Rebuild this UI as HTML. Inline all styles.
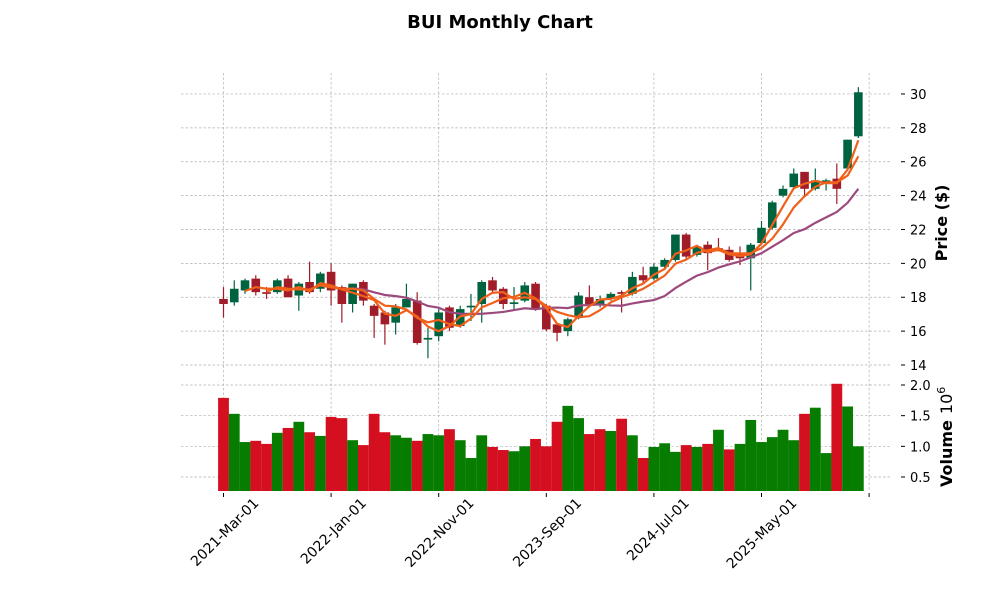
<!DOCTYPE html>
<html><head><meta charset="utf-8"><style>
body{margin:0;background:#fff;}
svg text{font-family:"DejaVu Sans","Liberation Sans",sans-serif;}
</style></head><body>
<svg id="s" width="1000" height="600" xmlns="http://www.w3.org/2000/svg">
<text x="500" y="28" text-anchor="middle" font-size="18" font-weight="bold">BUI Monthly Chart</text>
</svg>
<script>
const d=[[17.9,17.6,18.6,16.8],[17.7,18.5,19,17.5],[18.4,19,19.1,18.2],[19.1,18.3,19.3,18.1],[18.3,18.2,18.6,17.9],[18.3,19,19.1,18.2],[19.1,18,19.3,18],[18.1,18.8,18.9,17.2],[18.9,18.3,20.1,18.2],[18.5,19.4,19.5,18.3],
[19.5,18.4,20,17.5],[18.6,17.6,18.7,16.5],[17.6,18.8,18.8,17.1],[18.9,17.8,19,17.5],[17.5,16.9,17.6,15.6],[17.1,16.4,17.2,15.2],[16.5,17.4,17.6,15.8],[17.4,17.9,18.8,17.4],[17.8,15.3,18.3,15.2],[15.5,15.6,16.2,14.4],
[15.7,17.1,17.3,15.4],[17.4,16.2,17.5,16],[16.3,17.3,17.5,16.2],[17.4,17.5,18.2,16.6],[17.6,18.9,19,16.5],[19,18.4,19.2,18.3],[18.5,17.6,18.6,17.3],[17.6,17.7,18.6,17.3],[17.8,18.7,18.9,17.7],[18.8,17.3,18.9,17.2],
[17.5,16.1,17.6,16],[16.4,15.9,16.5,15.4],[16,16.7,16.8,15.7],[16.8,18.1,18.3,16.7],[18,17.6,18.7,17.5],[17.6,17.9,18.1,17.4],[17.9,18.2,18.3,17.8],[18.3,18.2,18.4,17.1],[18.2,19.2,19.5,18.1],[19.3,19,19.8,18.8],
[19.1,19.8,20,19],[19.8,20.2,20.3,19.7],[20.2,21.7,21.7,20.1],[21.7,20.4,21.8,20.2],[20.5,21,21.1,20.4],[21.1,20.6,21.3,19.6],[20.9,20.8,21.5,20.7],[20.8,20.2,21,20.1],[20.6,20.3,21,19.9],[20.3,21.1,21.2,18.4],
[21.2,22.1,22.5,21.1],[22.1,23.6,23.7,22],[24,24.4,24.6,23.9],[24.5,25.3,25.6,24.4],[25.4,24.4,25.4,24],[24.4,24.9,25.6,24.3],[24.8,24.9,25,24.3],[25,24.4,25.9,23.5],[25.6,27.3,27.3,25.5],[27.5,30.1,30.4,27.4]];
const v=[1.79,1.53,1.07,1.09,1.04,1.22,1.30,1.40,1.23,1.17,1.48,1.46,1.10,1.02,1.53,1.23,1.18,1.14,1.09,1.20,1.18,1.28,1.10,0.81,1.18,0.99,0.94,0.92,1.00,1.12,1.00,1.40,1.66,1.46,1.20,1.28,1.25,1.45,1.18,0.81,0.99,1.05,0.91,1.02,0.99,1.04,1.27,0.95,1.04,1.43,1.07,1.15,1.27,1.10,1.53,1.63,0.89,2.02,1.65,1.00];
const vc="rggrrgrgrgrrgrrrggrggrgggrrggrrrggrrgrgrgggrgrgrgggggggrggrgg".split('');
const vcol=['r','g','g','r','r','g','r','g','r','g','r','r','g','r','r','r','g','g','r','g','g','r','g','g','g','r','r','g','g','r','r','r','g','g','r','r','g','r','g','r','g','g','g','r','g','r','g','r','g','g','g','g','g','g','r','g','g','r','g','g'];
const X=i=>223.5+i*10.76, Y=p=>365-(p-14)*16.94, VY=x=>477-(x-0.5)*61.33;
let h='';
for(let p=14;p<=30;p+=2)h+=`<line x1="181" x2="890" y1="${Y(p)}" y2="${Y(p)}" stroke="#b0b0b0" stroke-width="0.7" stroke-dasharray="2.5,2"/>`;
for(let q=0.5;q<=2.01;q+=0.5)h+=`<line x1="181" x2="890" y1="${VY(q)}" y2="${VY(q)}" stroke="#b0b0b0" stroke-width="0.7" stroke-dasharray="2.5,2"/>`;
const xt=[0,10,20,30,40,50,60],xl=["2021-Mar-01","2022-Jan-01","2022-Nov-01","2023-Sep-01","2024-Jul-01","2025-May-01",""];
xt.forEach((i,k)=>{const x=X(i);h+=`<line x1="${x}" x2="${x}" y1="73" y2="491" stroke="#b0b0b0" stroke-width="0.7" stroke-dasharray="2.5,2"/><line x1="${x}" x2="${x}" y1="493" y2="497" stroke="#000"/>`;
if(xl[k])h+=`<text transform="translate(${x+36},${504}) rotate(-45)" text-anchor="end" font-size="14">${xl[k]}</text>`;});
v.forEach((q,i)=>{h+=`<rect x="${X(i)-5.4}" y="${VY(q)}" width="10.8" height="${491-VY(q)}" fill="${vcol[i]=='r'?'#d40f1f':'#067d00'}"/>`;});
d.forEach((c,i)=>{const [o,cl,hi,lo]=c,col=cl>=o?'#006340':'#a01c28',x=X(i);
h+=`<line x1="${x}" x2="${x}" y1="${Y(hi)}" y2="${Y(lo)}" stroke="${col}" stroke-width="1.2"/>`;
const t=Math.min(Y(o),Y(cl)),b=Math.max(Y(o),Y(cl));h+=`<rect x="${x-4.3}" y="${t}" width="8.6" height="${Math.max(b-t,1.5)}" fill="${col}"/>`;});
function ma(n,col,w){let pts=[];for(let i=n-1;i<60;i++){let s=0;for(let j=0;j<n;j++)s+=d[i-j][1];pts.push(X(i)+','+Y(s/n));}
h+=`<polyline points="${pts.join(' ')}" fill="none" stroke="${col}" stroke-width="${w}"/>`;}
ma(12,'#9c4a7c',2.2);ma(5,'#f0601a',2.2);ma(3,'#f0601a',2.2);
for(let p=14;p<=30;p+=2)h+=`<line x1="901" x2="905" y1="${Y(p)}" y2="${Y(p)}" stroke="#000"/><text x="910" y="${Y(p)+5}" font-size="13">${p}</text>`;
[0.5,1.0,1.5,2.0].forEach(q=>{h+=`<line x1="901" x2="905" y1="${VY(q)}" y2="${VY(q)}" stroke="#000"/><text x="910" y="${VY(q)+5}" font-size="13">${q.toFixed(1)}</text>`;});
h+=`<text transform="translate(947,223) rotate(-90)" text-anchor="middle" font-size="16" font-weight="bold">Price ($)</text>`;
h+=`<text transform="translate(952,487) rotate(-90)" font-size="16"><tspan font-weight="bold">Volume</tspan><tspan dx="6">10</tspan><tspan dy="-7" font-size="11">6</tspan></text>`;
document.getElementById('s').insertAdjacentHTML('beforeend',h);
</script>
</body></html>
